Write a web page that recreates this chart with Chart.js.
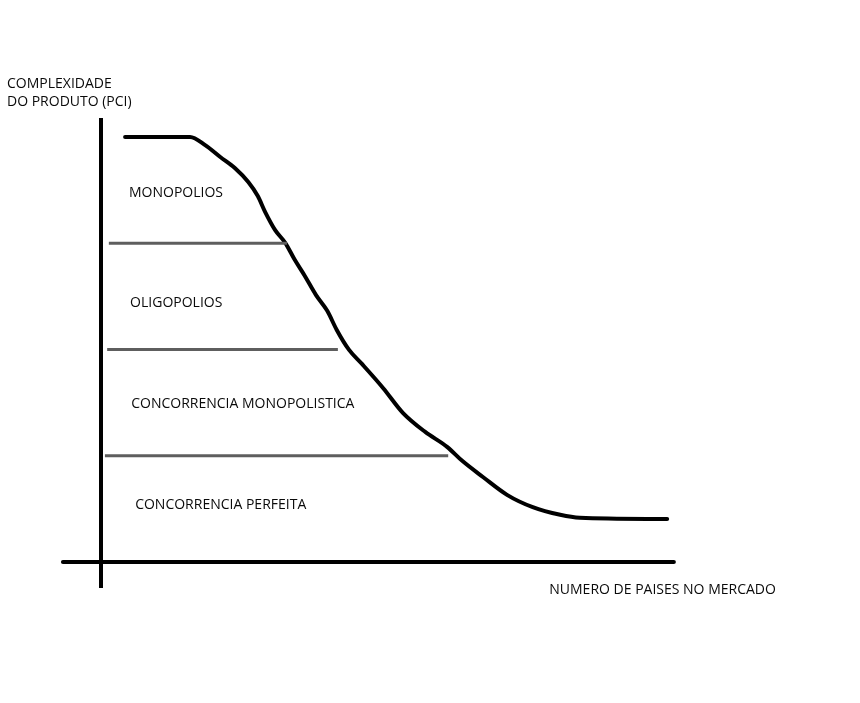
<!DOCTYPE html>
<html>
<head>
<meta charset="utf-8">
<script src="https://cdn.jsdelivr.net/npm/chart.js@4"></script>
<style>
  html, body { margin: 0; padding: 0; background: #ffffff; }
  #wrap { position: relative; width: 860px; height: 703px; }
</style>
</head>
<body>
<div id="wrap"><canvas id="c"></canvas></div>
<script>
// ---- data (abstract units: x = number of countries, y = product complexity) ----
const curveX = [4.3, 15.9, 18.6, 21.3, 23.9, 26.3, 28.0, 29.3, 31.1, 32.9, 34.6, 36.4, 38.4, 40.4, 42.1, 44.3, 46.6, 50.4, 53.9, 57.9, 61.8, 64.5, 68.2, 72.5, 77.1, 82.0, 85.5, 101.1];
const curveY = [100, 100, 98.1, 95.3, 92.7, 89.4, 86.1, 82.4, 78.1, 75.1, 71.1, 67.3, 62.8, 59.1, 54.6, 49.9, 46.6, 40.9, 35.1, 30.6, 27.1, 23.8, 20.0, 15.8, 12.9, 11.1, 10.4, 10.1];

// boundaries between market structures
const boundaryLevels = [75, 50, 25];
const boundaryStartX = [1.4, 1.1, 0.7];
const boundaryEndX = [33.2, 42.3, 62.0];

// axis extents
const yAxisFrom = -6.1, yAxisTo = 104.5;
const xAxisFrom = -6.8, xAxisTo = 102.3;

const regionLabels = ["MONOPOLIOS", "OLIGOPOLIOS", "CONCORRENCIA MONOPOLISTICA", "CONCORRENCIA PERFEITA"];
const yTitleLines = ["COMPLEXIDADE", "DO PRODUTO (PCI)"];
const xTitle = "NUMERO DE PAISES NO MERCADO";

// ---- datasets built from the arrays ----
const datasets = [];
datasets.push({
  data: [{x: 0, y: yAxisFrom}, {x: 0, y: yAxisTo}],
  borderColor: '#000', borderWidth: 4, pointRadius: 0, showLine: true, clip: false, borderCapStyle: 'butt'
});
datasets.push({
  data: [{x: xAxisFrom, y: 0}, {x: xAxisTo, y: 0}],
  borderColor: '#000', borderWidth: 4, pointRadius: 0, showLine: true, clip: false, borderCapStyle: 'round'
});
boundaryLevels.forEach((lv, i) => {
  datasets.push({
    data: [{x: boundaryStartX[i], y: lv}, {x: boundaryEndX[i], y: lv}],
    borderColor: '#5e5e5e', borderWidth: 3, pointRadius: 0, showLine: true, clip: false
  });
});
datasets.push({
  data: curveX.map((x, i) => ({x, y: curveY[i]})),
  borderColor: '#000', borderWidth: 4, pointRadius: 0, showLine: true, clip: false,
  tension: 0.3, cubicInterpolationMode: 'monotone', borderCapStyle: 'round', borderJoinStyle: 'round'
});

// label placement (data coordinates for region labels)
const regionLabelPos = [{x: 5.0, y: 86.0}, {x: 5.2, y: 59.9}, {x: 5.4, y: 36.3}, {x: 6.1, y: 12.5}];

const textPlugin = {
  id: 'sketchText',
  afterDatasetsDraw(chart) {
    const ctx = chart.ctx;
    const xs = chart.scales.x, ys = chart.scales.y;
    ctx.save();
    ctx.fillStyle = '#0a0a0a';
    ctx.font = '14px "Open Sans"';
    ctx.textBaseline = 'alphabetic';
    ctx.textAlign = 'left';
    regionLabels.forEach((t, i) => {
      ctx.fillText(t, xs.getPixelForValue(regionLabelPos[i].x), ys.getPixelForValue(regionLabelPos[i].y));
    });
    // y-axis title above the axis
    const ax = xs.getPixelForValue(0);
    const top = ys.getPixelForValue(yAxisTo);
    ctx.fillText(yTitleLines[0], ax - 94, top - 30);
    ctx.fillText(yTitleLines[1], ax - 94, top - 12);
    // x-axis title under the right end
    const bx = xs.getPixelForValue(xAxisTo);
    const by = ys.getPixelForValue(0);
    ctx.textAlign = 'right';
    ctx.fillText(xTitle, bx + 102, by + 32);
    ctx.restore();
  }
};

new Chart(document.getElementById('c'), {
  type: 'scatter',
  data: { datasets },
  options: {
    responsive: true,
    maintainAspectRatio: false,
    animation: false,
    layout: { padding: { left: 101, right: 199, top: 137, bottom: 141 } },
    plugins: { legend: { display: false }, tooltip: { enabled: false } },
    scales: {
      x: { type: 'linear', min: 0, max: 100, display: false },
      y: { type: 'linear', min: 0, max: 100, display: false }
    }
  },
  plugins: [textPlugin]
});
</script>
</body>
</html>
